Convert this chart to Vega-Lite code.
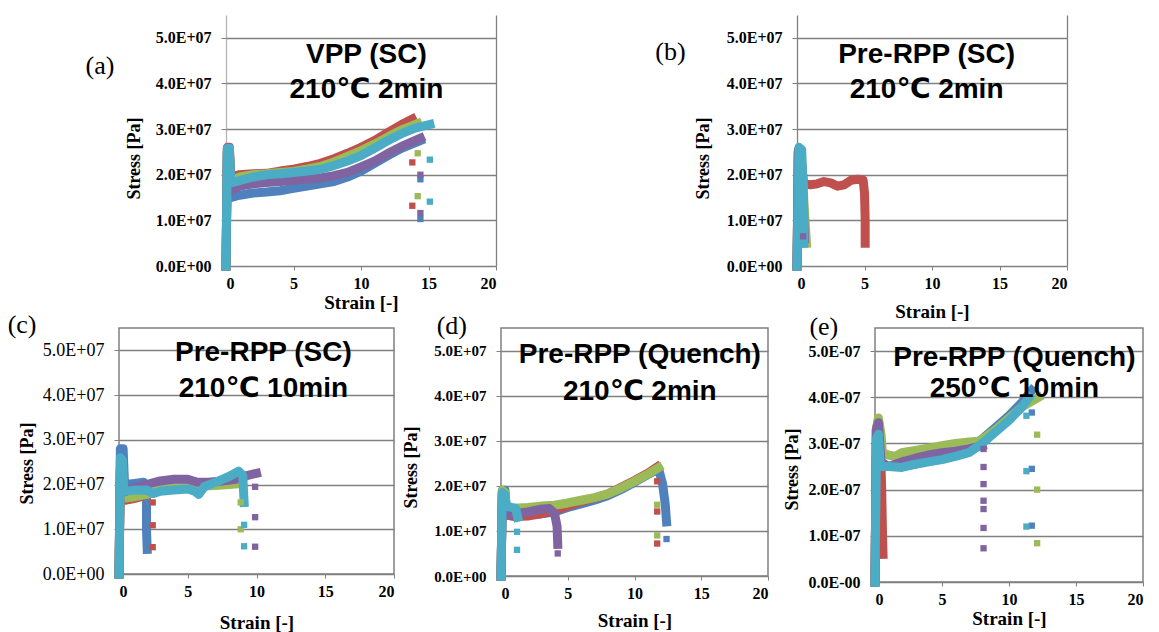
{
"$schema": "https://vega.github.io/schema/vega-lite/v6.json",
"background": "white",
"padding": {"left": 6, "top": 15, "right": 0, "bottom": 0},
"config": {
  "view": {"stroke": null},
  "axis": {"labelFont": "Liberation Serif", "labelFontSize": 16, "labelFontWeight": "bold", "labelColor": "#000", "titleFont": "Liberation Serif", "titleFontSize": 19, "titleFontWeight": "bold", "titleColor": "#000", "domain": false, "tickColor": "#808080", "gridColor": "#808080", "gridWidth": 1.3},
  "axisX": {"tickSize": 4, "labelPadding": 5, "grid": false},
  "axisY": {"tickSize": 5, "labelPadding": 10, "grid": true, "titleFontSize": 18}
},
"datasets": {"d": [
{"p":"a","k":"l","s":"1","x":0,"y":0},{"p":"a","k":"l","s":"1","x":0.1,"y":2.5e7},{"p":"a","k":"l","s":"1","x":0.25,"y":2.55e7},{"p":"a","k":"l","s":"1","x":0.35,"y":1.5e7},{"p":"a","k":"l","s":"1","x":1,"y":1.55e7},{"p":"a","k":"l","s":"1","x":2,"y":1.6e7},{"p":"a","k":"l","s":"1","x":3,"y":1.62e7},{"p":"a","k":"l","s":"1","x":4,"y":1.65e7},{"p":"a","k":"l","s":"1","x":5,"y":1.7e7},{"p":"a","k":"l","s":"1","x":6,"y":1.75e7},{"p":"a","k":"l","s":"1","x":7,"y":1.8e7},{"p":"a","k":"l","s":"1","x":8,"y":1.85e7},{"p":"a","k":"l","s":"1","x":9,"y":1.95e7},{"p":"a","k":"l","s":"1","x":10,"y":2.08e7},{"p":"a","k":"l","s":"1","x":11,"y":2.25e7},{"p":"a","k":"l","s":"1","x":12,"y":2.42e7},{"p":"a","k":"l","s":"1","x":13,"y":2.58e7},{"p":"a","k":"l","s":"1","x":14.4,"y":2.75e7},
{"p":"a","k":"l","s":"2","x":0,"y":0},{"p":"a","k":"l","s":"2","x":0.1,"y":2.6e7},{"p":"a","k":"l","s":"2","x":0.25,"y":2.6e7},{"p":"a","k":"l","s":"2","x":0.35,"y":1.95e7},{"p":"a","k":"l","s":"2","x":1,"y":2.0e7},{"p":"a","k":"l","s":"2","x":2,"y":2.02e7},{"p":"a","k":"l","s":"2","x":3,"y":2.03e7},{"p":"a","k":"l","s":"2","x":4,"y":2.08e7},{"p":"a","k":"l","s":"2","x":5,"y":2.12e7},{"p":"a","k":"l","s":"2","x":6,"y":2.18e7},{"p":"a","k":"l","s":"2","x":7,"y":2.25e7},{"p":"a","k":"l","s":"2","x":8,"y":2.35e7},{"p":"a","k":"l","s":"2","x":9,"y":2.47e7},{"p":"a","k":"l","s":"2","x":10,"y":2.6e7},{"p":"a","k":"l","s":"2","x":11,"y":2.75e7},{"p":"a","k":"l","s":"2","x":12,"y":2.93e7},{"p":"a","k":"l","s":"2","x":13,"y":3.1e7},{"p":"a","k":"l","s":"2","x":13.8,"y":3.22e7},
{"p":"a","k":"l","s":"3","x":0,"y":0},{"p":"a","k":"l","s":"3","x":0.1,"y":2.55e7},{"p":"a","k":"l","s":"3","x":0.25,"y":2.55e7},{"p":"a","k":"l","s":"3","x":0.35,"y":1.85e7},{"p":"a","k":"l","s":"3","x":1,"y":1.95e7},{"p":"a","k":"l","s":"3","x":2,"y":2.0e7},{"p":"a","k":"l","s":"3","x":3,"y":2.02e7},{"p":"a","k":"l","s":"3","x":4,"y":2.05e7},{"p":"a","k":"l","s":"3","x":5,"y":2.07e7},{"p":"a","k":"l","s":"3","x":6,"y":2.12e7},{"p":"a","k":"l","s":"3","x":7,"y":2.18e7},{"p":"a","k":"l","s":"3","x":8,"y":2.28e7},{"p":"a","k":"l","s":"3","x":9,"y":2.4e7},{"p":"a","k":"l","s":"3","x":10,"y":2.53e7},{"p":"a","k":"l","s":"3","x":11,"y":2.67e7},{"p":"a","k":"l","s":"3","x":12,"y":2.83e7},{"p":"a","k":"l","s":"3","x":13,"y":2.98e7},{"p":"a","k":"l","s":"3","x":14.2,"y":3.12e7},
{"p":"a","k":"l","s":"4","x":0,"y":0},{"p":"a","k":"l","s":"4","x":0.1,"y":2.5e7},{"p":"a","k":"l","s":"4","x":0.25,"y":2.5e7},{"p":"a","k":"l","s":"4","x":0.35,"y":1.65e7},{"p":"a","k":"l","s":"4","x":1,"y":1.75e7},{"p":"a","k":"l","s":"4","x":2,"y":1.8e7},{"p":"a","k":"l","s":"4","x":3,"y":1.83e7},{"p":"a","k":"l","s":"4","x":4,"y":1.85e7},{"p":"a","k":"l","s":"4","x":5,"y":1.88e7},{"p":"a","k":"l","s":"4","x":6,"y":1.9e7},{"p":"a","k":"l","s":"4","x":7,"y":1.93e7},{"p":"a","k":"l","s":"4","x":8,"y":1.98e7},{"p":"a","k":"l","s":"4","x":9,"y":2.05e7},{"p":"a","k":"l","s":"4","x":10,"y":2.17e7},{"p":"a","k":"l","s":"4","x":11,"y":2.3e7},{"p":"a","k":"l","s":"4","x":12,"y":2.47e7},{"p":"a","k":"l","s":"4","x":13,"y":2.62e7},{"p":"a","k":"l","s":"4","x":14.4,"y":2.8e7},
{"p":"a","k":"l","s":"5","x":0,"y":0},{"p":"a","k":"l","s":"5","x":0.1,"y":2.58e7},{"p":"a","k":"l","s":"5","x":0.25,"y":2.58e7},{"p":"a","k":"l","s":"5","x":0.35,"y":1.82e7},{"p":"a","k":"l","s":"5","x":1,"y":1.87e7},{"p":"a","k":"l","s":"5","x":2,"y":1.95e7},{"p":"a","k":"l","s":"5","x":3,"y":2.0e7},{"p":"a","k":"l","s":"5","x":4,"y":2.02e7},{"p":"a","k":"l","s":"5","x":5,"y":2.05e7},{"p":"a","k":"l","s":"5","x":6,"y":2.08e7},{"p":"a","k":"l","s":"5","x":7,"y":2.12e7},{"p":"a","k":"l","s":"5","x":8,"y":2.2e7},{"p":"a","k":"l","s":"5","x":9,"y":2.3e7},{"p":"a","k":"l","s":"5","x":10,"y":2.42e7},{"p":"a","k":"l","s":"5","x":11,"y":2.58e7},{"p":"a","k":"l","s":"5","x":12,"y":2.75e7},{"p":"a","k":"l","s":"5","x":13,"y":2.9e7},{"p":"a","k":"l","s":"5","x":14,"y":3.02e7},{"p":"a","k":"l","s":"5","x":15.1,"y":3.1e7},
{"p":"a","k":"p","s":"1","x":14.4,"y":1.9e7},{"p":"a","k":"p","s":"1","x":14.4,"y":1.03e7},{"p":"a","k":"p","s":"2","x":13.8,"y":2.27e7},{"p":"a","k":"p","s":"2","x":13.8,"y":1.32e7},{"p":"a","k":"p","s":"3","x":14.2,"y":2.47e7},{"p":"a","k":"p","s":"3","x":14.2,"y":1.53e7},{"p":"a","k":"p","s":"4","x":14.4,"y":2.0e7},{"p":"a","k":"p","s":"4","x":14.4,"y":1.16e7},{"p":"a","k":"p","s":"5","x":15.1,"y":2.33e7},{"p":"a","k":"p","s":"5","x":15.1,"y":1.41e7},
{"p":"a","k":"t","x":10.4,"y":4.62e7,"t":"VPP (SC)"},{"p":"a","k":"t","x":10.4,"y":3.86e7,"t":"210℃ 2min"},{"p":"a","k":"L","x":-9.33,"y":4.38e7,"t":"(a)"},

{"p":"b","k":"l","s":"1","x":0,"y":0},{"p":"b","k":"l","s":"1","x":0.1,"y":2.5e7},{"p":"b","k":"l","s":"1","x":0.3,"y":2.4e7},{"p":"b","k":"l","s":"1","x":0.45,"y":1.5e7},{"p":"b","k":"l","s":"1","x":0.55,"y":0.8e7},
{"p":"b","k":"l","s":"2","x":0,"y":0},{"p":"b","k":"l","s":"2","x":0.1,"y":2.55e7},{"p":"b","k":"l","s":"2","x":0.35,"y":2.2e7},{"p":"b","k":"l","s":"2","x":0.5,"y":1.8e7},{"p":"b","k":"l","s":"2","x":1,"y":1.78e7},{"p":"b","k":"l","s":"2","x":1.5,"y":1.8e7},{"p":"b","k":"l","s":"2","x":2,"y":1.85e7},{"p":"b","k":"l","s":"2","x":2.5,"y":1.82e7},{"p":"b","k":"l","s":"2","x":3,"y":1.75e7},{"p":"b","k":"l","s":"2","x":3.5,"y":1.78e7},{"p":"b","k":"l","s":"2","x":4,"y":1.88e7},{"p":"b","k":"l","s":"2","x":4.5,"y":1.9e7},{"p":"b","k":"l","s":"2","x":4.9,"y":1.88e7},{"p":"b","k":"l","s":"2","x":5.0,"y":1.6e7},{"p":"b","k":"l","s":"2","x":5.05,"y":1.0e7},{"p":"b","k":"l","s":"2","x":5.05,"y":0.5e7},
{"p":"b","k":"l","s":"3","x":0,"y":0},{"p":"b","k":"l","s":"3","x":0.1,"y":2.5e7},{"p":"b","k":"l","s":"3","x":0.35,"y":2.3e7},{"p":"b","k":"l","s":"3","x":0.55,"y":1.2e7},{"p":"b","k":"l","s":"3","x":0.7,"y":0.5e7},
{"p":"b","k":"l","s":"4","x":0,"y":0},{"p":"b","k":"l","s":"4","x":0.1,"y":2.5e7},{"p":"b","k":"l","s":"4","x":0.35,"y":2.2e7},{"p":"b","k":"l","s":"4","x":0.5,"y":1.0e7},{"p":"b","k":"l","s":"4","x":0.55,"y":0.6e7},
{"p":"b","k":"l","s":"5","x":0,"y":0},{"p":"b","k":"l","s":"5","x":0.15,"y":2.6e7},{"p":"b","k":"l","s":"5","x":0.35,"y":2.55e7},{"p":"b","k":"l","s":"5","x":0.5,"y":1.2e7},{"p":"b","k":"l","s":"5","x":0.5,"y":0.5e7},
{"p":"b","k":"p","s":"4","x":0.45,"y":0.65e7},
{"p":"b","k":"t","x":9.6,"y":4.62e7,"t":"Pre-RPP (SC)"},{"p":"b","k":"t","x":9.6,"y":3.86e7,"t":"210℃ 2min"},{"p":"b","k":"L","x":-9.37,"y":4.69e7,"t":"(b)"},

{"p":"c","k":"l","s":"1","x":0,"y":0},{"p":"c","k":"l","s":"1","x":0.1,"y":2.8e7},{"p":"c","k":"l","s":"1","x":0.3,"y":2.8e7},{"p":"c","k":"l","s":"1","x":0.4,"y":2.0e7},{"p":"c","k":"l","s":"1","x":1,"y":2.02e7},{"p":"c","k":"l","s":"1","x":1.8,"y":2.05e7},{"p":"c","k":"l","s":"1","x":2.0,"y":1.9e7},{"p":"c","k":"l","s":"1","x":2.0,"y":1.0e7},{"p":"c","k":"l","s":"1","x":2.05,"y":0.55e7},
{"p":"c","k":"l","s":"2","x":0,"y":0},{"p":"c","k":"l","s":"2","x":0.1,"y":2.3e7},{"p":"c","k":"l","s":"2","x":0.3,"y":2.0e7},{"p":"c","k":"l","s":"2","x":0.5,"y":1.65e7},{"p":"c","k":"l","s":"2","x":1,"y":1.68e7},{"p":"c","k":"l","s":"2","x":1.5,"y":1.72e7},{"p":"c","k":"l","s":"2","x":2.0,"y":1.78e7},{"p":"c","k":"l","s":"2","x":2.3,"y":1.8e7},
{"p":"c","k":"l","s":"3","x":0,"y":0},{"p":"c","k":"l","s":"3","x":0.1,"y":2.3e7},{"p":"c","k":"l","s":"3","x":0.3,"y":1.9e7},{"p":"c","k":"l","s":"3","x":0.5,"y":1.7e7},{"p":"c","k":"l","s":"3","x":1,"y":1.72e7},{"p":"c","k":"l","s":"3","x":2,"y":1.78e7},{"p":"c","k":"l","s":"3","x":3,"y":1.88e7},{"p":"c","k":"l","s":"3","x":4,"y":1.93e7},{"p":"c","k":"l","s":"3","x":5,"y":1.95e7},{"p":"c","k":"l","s":"3","x":6,"y":1.97e7},{"p":"c","k":"l","s":"3","x":7,"y":1.98e7},{"p":"c","k":"l","s":"3","x":8,"y":2.0e7},{"p":"c","k":"l","s":"3","x":8.8,"y":2.02e7},
{"p":"c","k":"l","s":"4","x":0,"y":0},{"p":"c","k":"l","s":"4","x":0.1,"y":2.4e7},{"p":"c","k":"l","s":"4","x":0.3,"y":2.0e7},{"p":"c","k":"l","s":"4","x":0.5,"y":1.85e7},{"p":"c","k":"l","s":"4","x":1,"y":1.92e7},{"p":"c","k":"l","s":"4","x":2,"y":2.0e7},{"p":"c","k":"l","s":"4","x":3,"y":2.08e7},{"p":"c","k":"l","s":"4","x":4,"y":2.12e7},{"p":"c","k":"l","s":"4","x":5,"y":2.12e7},{"p":"c","k":"l","s":"4","x":5.7,"y":2.05e7},{"p":"c","k":"l","s":"4","x":6.5,"y":2.05e7},{"p":"c","k":"l","s":"4","x":7.5,"y":2.08e7},{"p":"c","k":"l","s":"4","x":8.5,"y":2.12e7},{"p":"c","k":"l","s":"4","x":9.3,"y":2.2e7},{"p":"c","k":"l","s":"4","x":10,"y":2.25e7},
{"p":"c","k":"l","s":"5","x":0,"y":0},{"p":"c","k":"l","s":"5","x":0.1,"y":2.6e7},{"p":"c","k":"l","s":"5","x":0.25,"y":2.55e7},{"p":"c","k":"l","s":"5","x":0.35,"y":1.85e7},{"p":"c","k":"l","s":"5","x":1,"y":1.87e7},{"p":"c","k":"l","s":"5","x":2,"y":1.88e7},{"p":"c","k":"l","s":"5","x":2.5,"y":1.8e7},{"p":"c","k":"l","s":"5","x":3,"y":1.85e7},{"p":"c","k":"l","s":"5","x":4,"y":1.88e7},{"p":"c","k":"l","s":"5","x":5,"y":1.9e7},{"p":"c","k":"l","s":"5","x":5.5,"y":1.85e7},{"p":"c","k":"l","s":"5","x":5.8,"y":1.78e7},{"p":"c","k":"l","s":"5","x":6.2,"y":1.95e7},{"p":"c","k":"l","s":"5","x":7,"y":2.05e7},{"p":"c","k":"l","s":"5","x":8,"y":2.18e7},{"p":"c","k":"l","s":"5","x":8.7,"y":2.3e7},{"p":"c","k":"l","s":"5","x":9.0,"y":2.2e7},{"p":"c","k":"l","s":"5","x":9.1,"y":1.6e7},
{"p":"c","k":"p","s":"2","x":2.45,"y":1.6e7},{"p":"c","k":"p","s":"2","x":2.45,"y":1.09e7},{"p":"c","k":"p","s":"2","x":2.45,"y":0.6e7},{"p":"c","k":"p","s":"3","x":8.85,"y":1.6e7},{"p":"c","k":"p","s":"3","x":8.85,"y":1.0e7},{"p":"c","k":"p","s":"4","x":9.9,"y":1.95e7},{"p":"c","k":"p","s":"4","x":9.9,"y":1.27e7},{"p":"c","k":"p","s":"4","x":9.9,"y":0.61e7},{"p":"c","k":"p","s":"5","x":9.1,"y":1.1e7},{"p":"c","k":"p","s":"5","x":9.1,"y":0.62e7},
{"p":"c","k":"t","x":10.5,"y":4.93e7,"t":"Pre-RPP (SC)"},{"p":"c","k":"t","x":10.5,"y":4.13e7,"t":"210℃ 10min"},{"p":"c","k":"L","x":-7.05,"y":5.57e7,"t":"(c)"},

{"p":"d","k":"l","s":"1","x":0,"y":0},{"p":"d","k":"l","s":"1","x":0.1,"y":1.9e7},{"p":"d","k":"l","s":"1","x":0.3,"y":1.9e7},{"p":"d","k":"l","s":"1","x":0.4,"y":1.4e7},{"p":"d","k":"l","s":"1","x":1,"y":1.35e7},{"p":"d","k":"l","s":"1","x":2,"y":1.35e7},{"p":"d","k":"l","s":"1","x":3,"y":1.38e7},{"p":"d","k":"l","s":"1","x":4,"y":1.42e7},{"p":"d","k":"l","s":"1","x":5,"y":1.52e7},{"p":"d","k":"l","s":"1","x":6,"y":1.6e7},{"p":"d","k":"l","s":"1","x":7,"y":1.68e7},{"p":"d","k":"l","s":"1","x":8,"y":1.78e7},{"p":"d","k":"l","s":"1","x":9,"y":1.92e7},{"p":"d","k":"l","s":"1","x":10,"y":2.08e7},{"p":"d","k":"l","s":"1","x":11,"y":2.25e7},{"p":"d","k":"l","s":"1","x":11.8,"y":2.38e7},{"p":"d","k":"l","s":"1","x":12.1,"y":2.05e7},{"p":"d","k":"l","s":"1","x":12.3,"y":1.6e7},{"p":"d","k":"l","s":"1","x":12.4,"y":1.2e7},
{"p":"d","k":"l","s":"2","x":0,"y":0},{"p":"d","k":"l","s":"2","x":0.1,"y":1.85e7},{"p":"d","k":"l","s":"2","x":0.3,"y":1.8e7},{"p":"d","k":"l","s":"2","x":0.4,"y":1.35e7},{"p":"d","k":"l","s":"2","x":1,"y":1.32e7},{"p":"d","k":"l","s":"2","x":2,"y":1.33e7},{"p":"d","k":"l","s":"2","x":3,"y":1.38e7},{"p":"d","k":"l","s":"2","x":4,"y":1.45e7},{"p":"d","k":"l","s":"2","x":5,"y":1.55e7},{"p":"d","k":"l","s":"2","x":6,"y":1.65e7},{"p":"d","k":"l","s":"2","x":7,"y":1.73e7},{"p":"d","k":"l","s":"2","x":8,"y":1.82e7},{"p":"d","k":"l","s":"2","x":9,"y":1.97e7},{"p":"d","k":"l","s":"2","x":10,"y":2.12e7},{"p":"d","k":"l","s":"2","x":11,"y":2.28e7},{"p":"d","k":"l","s":"2","x":11.7,"y":2.42e7},
{"p":"d","k":"l","s":"3","x":0,"y":0},{"p":"d","k":"l","s":"3","x":0.1,"y":1.9e7},{"p":"d","k":"l","s":"3","x":0.3,"y":1.85e7},{"p":"d","k":"l","s":"3","x":0.4,"y":1.45e7},{"p":"d","k":"l","s":"3","x":1,"y":1.5e7},{"p":"d","k":"l","s":"3","x":2,"y":1.52e7},{"p":"d","k":"l","s":"3","x":3,"y":1.55e7},{"p":"d","k":"l","s":"3","x":4,"y":1.57e7},{"p":"d","k":"l","s":"3","x":5,"y":1.62e7},{"p":"d","k":"l","s":"3","x":6,"y":1.68e7},{"p":"d","k":"l","s":"3","x":7,"y":1.74e7},{"p":"d","k":"l","s":"3","x":8,"y":1.82e7},{"p":"d","k":"l","s":"3","x":9,"y":1.95e7},{"p":"d","k":"l","s":"3","x":10,"y":2.1e7},{"p":"d","k":"l","s":"3","x":11,"y":2.26e7},{"p":"d","k":"l","s":"3","x":11.8,"y":2.4e7},
{"p":"d","k":"l","s":"4","x":0,"y":0},{"p":"d","k":"l","s":"4","x":0.1,"y":1.8e7},{"p":"d","k":"l","s":"4","x":0.3,"y":1.75e7},{"p":"d","k":"l","s":"4","x":0.4,"y":1.35e7},{"p":"d","k":"l","s":"4","x":1,"y":1.38e7},{"p":"d","k":"l","s":"4","x":2,"y":1.42e7},{"p":"d","k":"l","s":"4","x":3,"y":1.48e7},{"p":"d","k":"l","s":"4","x":3.6,"y":1.5e7},{"p":"d","k":"l","s":"4","x":4.0,"y":1.4e7},{"p":"d","k":"l","s":"4","x":4.2,"y":1.1e7},{"p":"d","k":"l","s":"4","x":4.25,"y":0.7e7},
{"p":"d","k":"l","s":"5","x":0,"y":0},{"p":"d","k":"l","s":"5","x":0.1,"y":1.85e7},{"p":"d","k":"l","s":"5","x":0.3,"y":1.8e7},{"p":"d","k":"l","s":"5","x":0.4,"y":1.55e7},{"p":"d","k":"l","s":"5","x":0.8,"y":1.52e7},{"p":"d","k":"l","s":"5","x":1.1,"y":1.5e7},{"p":"d","k":"l","s":"5","x":1.25,"y":1.3e7},
{"p":"d","k":"p","s":"1","x":12.4,"y":0.82e7},{"p":"d","k":"p","s":"2","x":11.7,"y":2.1e7},{"p":"d","k":"p","s":"2","x":11.7,"y":1.43e7},{"p":"d","k":"p","s":"2","x":11.7,"y":0.72e7},{"p":"d","k":"p","s":"3","x":11.7,"y":1.58e7},{"p":"d","k":"p","s":"3","x":11.7,"y":0.9e7},{"p":"d","k":"p","s":"4","x":4.25,"y":0.5e7},{"p":"d","k":"p","s":"5","x":1.2,"y":0.98e7},{"p":"d","k":"p","s":"5","x":1.2,"y":0.58e7},
{"p":"d","k":"t","x":10.4,"y":4.9e7,"t":"Pre-RPP (Quench)"},{"p":"d","k":"t","x":10.4,"y":4.09e7,"t":"210℃ 2min"},{"p":"d","k":"L","x":-3.68,"y":5.54e7,"t":"(d)"},

{"p":"e","k":"l","s":"1","x":0,"y":0},{"p":"e","k":"l","s":"1","x":0.1,"y":3.0e7},{"p":"e","k":"l","s":"1","x":0.3,"y":3.2e7},{"p":"e","k":"l","s":"1","x":0.45,"y":2.5e7},{"p":"e","k":"l","s":"1","x":1,"y":2.5e7},{"p":"e","k":"l","s":"1","x":2,"y":2.5e7},{"p":"e","k":"l","s":"1","x":3,"y":2.55e7},{"p":"e","k":"l","s":"1","x":4,"y":2.62e7},{"p":"e","k":"l","s":"1","x":5,"y":2.7e7},{"p":"e","k":"l","s":"1","x":6,"y":2.78e7},{"p":"e","k":"l","s":"1","x":7,"y":2.9e7},{"p":"e","k":"l","s":"1","x":8,"y":3.1e7},{"p":"e","k":"l","s":"1","x":9,"y":3.35e7},{"p":"e","k":"l","s":"1","x":10,"y":3.6e7},{"p":"e","k":"l","s":"1","x":11,"y":3.9e7},{"p":"e","k":"l","s":"1","x":11.7,"y":4.15e7},
{"p":"e","k":"l","s":"2","x":0,"y":0},{"p":"e","k":"l","s":"2","x":0.1,"y":3.3e7},{"p":"e","k":"l","s":"2","x":0.25,"y":3.5e7},{"p":"e","k":"l","s":"2","x":0.4,"y":3.0e7},{"p":"e","k":"l","s":"2","x":0.5,"y":2.0e7},{"p":"e","k":"l","s":"2","x":0.55,"y":1.2e7},{"p":"e","k":"l","s":"2","x":0.6,"y":0.6e7},
{"p":"e","k":"l","s":"3","x":0,"y":0},{"p":"e","k":"l","s":"3","x":0.1,"y":3.3e7},{"p":"e","k":"l","s":"3","x":0.25,"y":3.55e7},{"p":"e","k":"l","s":"3","x":0.45,"y":3.2e7},{"p":"e","k":"l","s":"3","x":0.55,"y":2.8e7},{"p":"e","k":"l","s":"3","x":1,"y":2.75e7},{"p":"e","k":"l","s":"3","x":1.5,"y":2.72e7},{"p":"e","k":"l","s":"3","x":2,"y":2.8e7},{"p":"e","k":"l","s":"3","x":3,"y":2.85e7},{"p":"e","k":"l","s":"3","x":4,"y":2.9e7},{"p":"e","k":"l","s":"3","x":5,"y":2.95e7},{"p":"e","k":"l","s":"3","x":6,"y":3.0e7},{"p":"e","k":"l","s":"3","x":7,"y":3.03e7},{"p":"e","k":"l","s":"3","x":7.8,"y":3.05e7},{"p":"e","k":"l","s":"3","x":9,"y":3.3e7},{"p":"e","k":"l","s":"3","x":10,"y":3.55e7},{"p":"e","k":"l","s":"3","x":11,"y":3.8e7},{"p":"e","k":"l","s":"3","x":12.2,"y":4.0e7},
{"p":"e","k":"l","s":"4","x":0,"y":0},{"p":"e","k":"l","s":"4","x":0.1,"y":3.3e7},{"p":"e","k":"l","s":"4","x":0.25,"y":3.45e7},{"p":"e","k":"l","s":"4","x":0.45,"y":2.6e7},{"p":"e","k":"l","s":"4","x":1,"y":2.5e7},{"p":"e","k":"l","s":"4","x":2,"y":2.6e7},{"p":"e","k":"l","s":"4","x":3,"y":2.68e7},{"p":"e","k":"l","s":"4","x":4,"y":2.75e7},{"p":"e","k":"l","s":"4","x":5,"y":2.8e7},{"p":"e","k":"l","s":"4","x":6,"y":2.83e7},{"p":"e","k":"l","s":"4","x":7,"y":2.88e7},{"p":"e","k":"l","s":"4","x":8,"y":2.95e7},
{"p":"e","k":"l","s":"5","x":0,"y":0},{"p":"e","k":"l","s":"5","x":0.1,"y":3.1e7},{"p":"e","k":"l","s":"5","x":0.25,"y":3.2e7},{"p":"e","k":"l","s":"5","x":0.4,"y":2.5e7},{"p":"e","k":"l","s":"5","x":1,"y":2.5e7},{"p":"e","k":"l","s":"5","x":2,"y":2.48e7},{"p":"e","k":"l","s":"5","x":3,"y":2.55e7},{"p":"e","k":"l","s":"5","x":4,"y":2.6e7},{"p":"e","k":"l","s":"5","x":5,"y":2.65e7},{"p":"e","k":"l","s":"5","x":6,"y":2.72e7},{"p":"e","k":"l","s":"5","x":7,"y":2.8e7},{"p":"e","k":"l","s":"5","x":8,"y":3.0e7},{"p":"e","k":"l","s":"5","x":9,"y":3.25e7},{"p":"e","k":"l","s":"5","x":10,"y":3.5e7},{"p":"e","k":"l","s":"5","x":11,"y":3.8e7},{"p":"e","k":"l","s":"5","x":11.5,"y":4.0e7},
{"p":"e","k":"p","s":"1","x":11.7,"y":3.67e7},{"p":"e","k":"p","s":"1","x":11.7,"y":2.45e7},{"p":"e","k":"p","s":"1","x":11.7,"y":1.22e7},{"p":"e","k":"p","s":"3","x":12.1,"y":3.19e7},{"p":"e","k":"p","s":"3","x":12.1,"y":2.0e7},{"p":"e","k":"p","s":"3","x":12.1,"y":0.84e7},{"p":"e","k":"p","s":"4","x":8.1,"y":2.88e7},{"p":"e","k":"p","s":"4","x":8.1,"y":2.49e7},{"p":"e","k":"p","s":"4","x":8.1,"y":2.12e7},{"p":"e","k":"p","s":"4","x":8.1,"y":1.76e7},{"p":"e","k":"p","s":"4","x":8.1,"y":1.58e7},{"p":"e","k":"p","s":"4","x":8.1,"y":1.17e7},{"p":"e","k":"p","s":"4","x":8.1,"y":0.73e7},{"p":"e","k":"p","s":"5","x":11.3,"y":3.6e7},{"p":"e","k":"p","s":"5","x":11.3,"y":2.4e7},{"p":"e","k":"p","s":"5","x":11.3,"y":1.2e7},
{"p":"e","k":"t","x":10.4,"y":4.85e7,"t":"Pre-RPP (Quench)"},{"p":"e","k":"t","x":10.4,"y":4.18e7,"t":"250℃ 10min"},{"p":"e","k":"L","x":-3.82,"y":5.52e7,"t":"(e)"}
]},
"spacing": 313,
"bounds": "flush",
"vconcat": [
 {"hconcat": [
  {"width": 1, "height": 1, "data": {"values": []}, "mark": "point"},
  {"hconcat": [
   {"width": 270, "height": 251, "view": {"stroke": null},
    "data": {"name": "d"}, "transform": [{"filter": "datum.p=='a'"}],
    "encoding": {
      "x": {"field": "x", "type": "quantitative", "scale": {"domain": [0, 20], "nice": false, "zero": false}, "axis": {"title": "Strain [-]", "values": [0,5,10,15,20], "grid": true, "gridOpacity": {"condition": {"test": "datum.value==0||datum.value==20", "value": 1}, "value": 0}, "gridColor": {"condition": {"test": "datum.value==0", "value": "#b4b4b4"}, "value": "#808080"}, "titlePadding": 2}},
      "y": {"field": "y", "type": "quantitative", "scale": {"domain": [0, 55000000], "nice": false}, "axis": {"title": "Stress [Pa]", "values": [0,10000000,20000000,30000000,40000000,50000000], "labelExpr": "datum.value==0?'0.0E+00':format(datum.value/1e7,'.1f')+'E+07'", "titlePadding": 12, "titleY": 143}}
    },
    "layer": [
      {"transform": [{"filter": "datum.k=='l'"}], "mark": {"type": "line", "strokeWidth": 9, "strokeJoin": "round", "strokeCap": "square"}, "encoding": {"color": {"field": "s", "type": "nominal", "scale": {"domain": ["1","2","3","4","5"], "range": ["#4F81BD","#C0504D","#9BBB59","#8064A2","#4BACC6"]}, "legend": null}}},
      {"transform": [{"filter": "datum.k=='p'"}], "mark": {"type": "square", "size": 40, "opacity": 1}, "encoding": {"color": {"field": "s", "type": "nominal", "scale": {"domain": ["1","2","3","4","5"], "range": ["#4F81BD","#C0504D","#9BBB59","#8064A2","#4BACC6"]}, "legend": null}}},
      {"transform": [{"filter": "datum.k=='t'"}], "mark": {"type": "text", "font": "Liberation Sans, DejaVu Sans", "fontSize": 28, "fontWeight": "bold", "color": "#000"}, "encoding": {"text": {"field": "t"}}},
      {"transform": [{"filter": "datum.k=='L'"}], "mark": {"type": "text", "font": "Liberation Serif", "fontSize": 26, "color": "#000"}, "encoding": {"text": {"field": "t"}}}
    ]},
   {"width": 270, "height": 251, "view": {"stroke": null},
    "data": {"name": "d"}, "transform": [{"filter": "datum.p=='b'"}],
    "encoding": {
      "x": {"field": "x", "type": "quantitative", "scale": {"domain": [0, 20], "nice": false, "zero": false}, "axis": {"title": "Strain [-]", "values": [0,5,10,15,20], "grid": true, "gridOpacity": {"condition": {"test": "datum.value==0||datum.value==20", "value": 1}, "value": 0}, "titlePadding": 11}},
      "y": {"field": "y", "type": "quantitative", "scale": {"domain": [0, 55000000], "nice": false}, "axis": {"title": "Stress [Pa]", "values": [0,10000000,20000000,30000000,40000000,50000000], "labelExpr": "datum.value==0?'0.0E+00':format(datum.value/1e7,'.1f')+'E+07'", "titlePadding": 14, "titleY": 143}}
    },
    "layer": [
      {"transform": [{"filter": "datum.k=='l'"}], "mark": {"type": "line", "strokeWidth": 9, "strokeJoin": "round", "strokeCap": "square"}, "encoding": {"color": {"field": "s", "type": "nominal", "scale": {"domain": ["1","2","3","4","5"], "range": ["#4F81BD","#C0504D","#9BBB59","#8064A2","#4BACC6"]}, "legend": null}}},
      {"transform": [{"filter": "datum.k=='p'"}], "mark": {"type": "square", "size": 40, "opacity": 1}, "encoding": {"color": {"field": "s", "type": "nominal", "scale": {"domain": ["1","2","3","4","5"], "range": ["#4F81BD","#C0504D","#9BBB59","#8064A2","#4BACC6"]}, "legend": null}}},
      {"transform": [{"filter": "datum.k=='t'"}], "mark": {"type": "text", "font": "Liberation Sans, DejaVu Sans", "fontSize": 28, "fontWeight": "bold", "color": "#000"}, "encoding": {"text": {"field": "t"}}},
      {"transform": [{"filter": "datum.k=='L'"}], "mark": {"type": "text", "font": "Liberation Serif", "fontSize": 26, "color": "#000"}, "encoding": {"text": {"field": "t"}}}
    ]}
  ], "spacing": 301, "bounds": "flush"}
 ], "spacing": 106, "bounds": "flush"},
 {"hconcat": [
  {"width": 275, "height": 246, "view": {"stroke": "#808080", "strokeWidth": 1.5},
   "data": {"name": "d"}, "transform": [{"filter": "datum.p=='c'"}],
   "encoding": {
     "x": {"field": "x", "type": "quantitative", "scale": {"domain": [0, 20], "nice": false, "zero": false}, "axis": {"title": "Strain [-]", "values": [0,5,10,15,20], "titlePadding": 14}},
     "y": {"field": "y", "type": "quantitative", "scale": {"domain": [0, 55000000], "nice": false}, "axis": {"title": "Stress [Pa]", "values": [0,10000000,20000000,30000000,40000000,50000000], "labelExpr": "datum.value==0?'0.0E+00':format(datum.value/1e7,'.1f')+'E+07'", "labelFontSize": 18, "labelFontWeight": "normal", "titlePadding": 6, "titleY": 135}}
   },
   "layer": [
     {"transform": [{"filter": "datum.k=='l'"}], "mark": {"type": "line", "strokeWidth": 9, "strokeJoin": "round", "strokeCap": "square"}, "encoding": {"color": {"field": "s", "type": "nominal", "scale": {"domain": ["1","2","3","4","5"], "range": ["#4F81BD","#C0504D","#9BBB59","#8064A2","#4BACC6"]}, "legend": null}}},
     {"transform": [{"filter": "datum.k=='p'"}], "mark": {"type": "square", "size": 40, "opacity": 1}, "encoding": {"color": {"field": "s", "type": "nominal", "scale": {"domain": ["1","2","3","4","5"], "range": ["#4F81BD","#C0504D","#9BBB59","#8064A2","#4BACC6"]}, "legend": null}}},
     {"transform": [{"filter": "datum.k=='t'"}], "mark": {"type": "text", "font": "Liberation Sans, DejaVu Sans", "fontSize": 28, "fontWeight": "bold", "color": "#000"}, "encoding": {"text": {"field": "t"}}},
     {"transform": [{"filter": "datum.k=='L'"}], "mark": {"type": "text", "font": "Liberation Serif", "fontSize": 26, "color": "#000"}, "encoding": {"text": {"field": "t"}}}
   ]},
  {"width": 267, "height": 248, "view": {"stroke": "#808080", "strokeWidth": 1.5},
   "data": {"name": "d"}, "transform": [{"filter": "datum.p=='d'"}],
   "encoding": {
     "x": {"field": "x", "type": "quantitative", "scale": {"domain": [0, 20], "nice": false, "zero": false}, "axis": {"title": "Strain [-]", "values": [0,5,10,15,20], "titlePadding": 10}},
     "y": {"field": "y", "type": "quantitative", "scale": {"domain": [0, 55000000], "nice": false}, "axis": {"title": "Stress [Pa]", "values": [0,10000000,20000000,30000000,40000000,50000000], "labelExpr": "datum.value==0?'0.0E+00':format(datum.value/1e7,'.1f')+'E+07'", "labelFontSize": 15, "titlePadding": 13, "titleY": 139}}
   },
   "layer": [
     {"transform": [{"filter": "datum.k=='l'"}], "mark": {"type": "line", "strokeWidth": 9, "strokeJoin": "round", "strokeCap": "square"}, "encoding": {"color": {"field": "s", "type": "nominal", "scale": {"domain": ["1","2","3","4","5"], "range": ["#4F81BD","#C0504D","#9BBB59","#8064A2","#4BACC6"]}, "legend": null}}},
     {"transform": [{"filter": "datum.k=='p'"}], "mark": {"type": "square", "size": 40, "opacity": 1}, "encoding": {"color": {"field": "s", "type": "nominal", "scale": {"domain": ["1","2","3","4","5"], "range": ["#4F81BD","#C0504D","#9BBB59","#8064A2","#4BACC6"]}, "legend": null}}},
     {"transform": [{"filter": "datum.k=='t'"}], "mark": {"type": "text", "font": "Liberation Sans, DejaVu Sans", "fontSize": 28, "fontWeight": "bold", "color": "#000"}, "encoding": {"text": {"field": "t"}}},
     {"transform": [{"filter": "datum.k=='L'"}], "mark": {"type": "text", "font": "Liberation Serif", "fontSize": 26, "color": "#000"}, "encoding": {"text": {"field": "t"}}}
   ]},
  {"width": 268, "height": 254, "view": {"stroke": "#808080", "strokeWidth": 1.5},
   "data": {"name": "d"}, "transform": [{"filter": "datum.p=='e'"}],
   "encoding": {
     "x": {"field": "x", "type": "quantitative", "scale": {"domain": [0, 20], "nice": false, "zero": false}, "axis": {"title": "Strain [-]", "values": [0,5,10,15,20], "titlePadding": 2}},
     "y": {"field": "y", "type": "quantitative", "scale": {"domain": [0, 55000000], "nice": false}, "axis": {"title": "Stress [Pa]", "values": [0,10000000,20000000,30000000,40000000,50000000], "labelExpr": "datum.value==0?'0.0E-00':format(datum.value/1e7,'.1f')+'E-07'", "titlePadding": 7, "titleY": 141}}
   },
   "layer": [
     {"transform": [{"filter": "datum.k=='l'"}], "mark": {"type": "line", "strokeWidth": 9, "strokeJoin": "round", "strokeCap": "square"}, "encoding": {"color": {"field": "s", "type": "nominal", "scale": {"domain": ["1","2","3","4","5"], "range": ["#4F81BD","#C0504D","#9BBB59","#8064A2","#4BACC6"]}, "legend": null}}},
     {"transform": [{"filter": "datum.k=='p'"}], "mark": {"type": "square", "size": 40, "opacity": 1}, "encoding": {"color": {"field": "s", "type": "nominal", "scale": {"domain": ["1","2","3","4","5"], "range": ["#4F81BD","#C0504D","#9BBB59","#8064A2","#4BACC6"]}, "legend": null}}},
     {"transform": [{"filter": "datum.k=='t'"}], "mark": {"type": "text", "font": "Liberation Sans, DejaVu Sans", "fontSize": 28, "fontWeight": "bold", "color": "#000"}, "encoding": {"text": {"field": "t"}}},
     {"transform": [{"filter": "datum.k=='L'"}], "mark": {"type": "text", "font": "Liberation Serif", "fontSize": 26, "color": "#000"}, "encoding": {"text": {"field": "t"}}}
   ]}
 ], "spacing": 107, "bounds": "flush"}
]
}
